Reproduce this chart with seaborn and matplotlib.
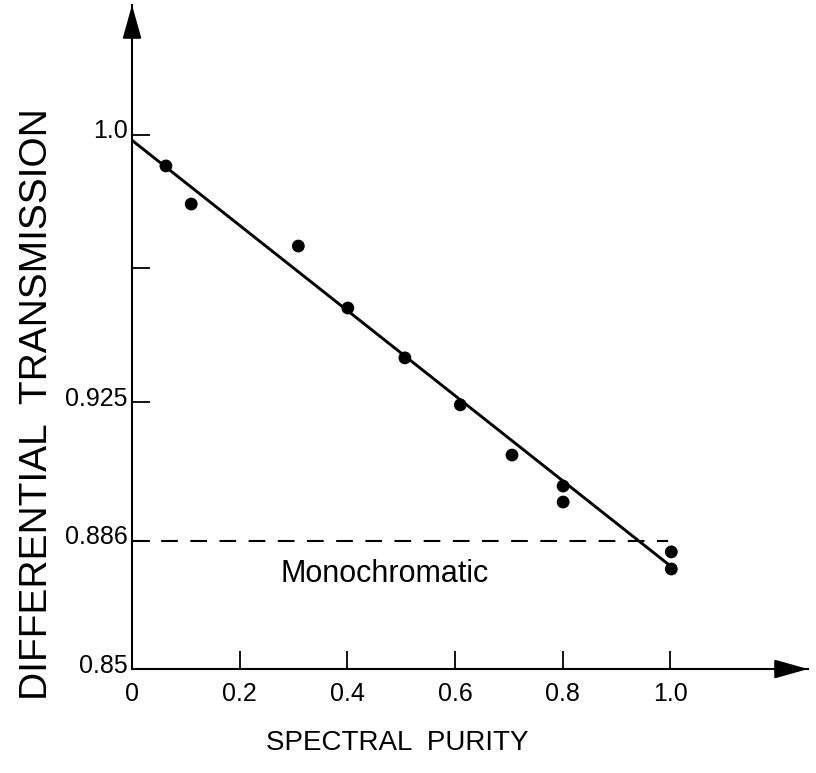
import matplotlib
matplotlib.use('Agg')
import numpy as np
import pandas as pd
import seaborn as sns
import matplotlib.pyplot as plt
from matplotlib.transforms import ScaledTranslation

purity = [0.063, 0.110, 0.309, 0.401, 0.507, 0.610, 0.706, 0.801, 0.801, 1.002, 1.002]
transmission = [0.9913, 0.9806, 0.9688, 0.9514, 0.9374, 0.9242, 0.9101,
                0.9014, 0.8969, 0.8829, 0.8781]

# Fitted straight line (end points)
fit_x = [0.0, 1.0]
fit_y = [0.9985, 0.8790]

# Monochromatic level
mono_level = 0.886
mono_x = [0.0, 0.995]

xticks = [0, 0.2, 0.4, 0.6, 0.8, 1.0]
xtick_labels = ['0', '0.2', '0.4', '0.6', '0.8', '1.0']
yticks = [0.85, 0.886, 0.925, 0.9625, 1.0]
ytick_labels = ['0.85', '0.886', '0.925', '', '1.0']

sns.set_style('ticks')
plt.rcParams['font.family'] = ['Liberation Sans', 'DejaVu Sans']
plt.rcParams['text.color'] = 'black'
plt.rcParams['axes.labelcolor'] = 'black'

fig = plt.figure(figsize=(8.16, 7.73), dpi=100)
ax = fig.add_axes([0.1618, 0.1345, 0.8284, 0.859])

points = pd.DataFrame({'purity': purity, 'transmission': transmission})
sns.scatterplot(data=points, x='purity', y='transmission', ax=ax,
                color='black', s=85, edgecolor='none', zorder=3)
sns.lineplot(x=fit_x, y=fit_y, ax=ax, color='black', linewidth=2.1)
ax.plot(mono_x, [mono_level, mono_level], color='black', linewidth=1.5,
        dashes=(8, 6))

ax.text(0.275, 0.8767, 'Monochromatic', fontsize=22, va='center', ha='left')

ax.set_xlim(0, 1.256)
ax.set_ylim(0.85, 1.0365)
ax.set_xticks(xticks)
ax.set_xticklabels(xtick_labels)
ax.set_yticks(yticks)
ax.set_yticklabels(ytick_labels)
ax.tick_params(direction='in', length=13, width=1.3, labelsize=18,
               colors='black')
ax.tick_params(axis='x', pad=9)
ax.tick_params(axis='y', pad=3)

# nudge y labels a bit upward like the original
for lab in ax.get_yticklabels():
    lab.set_transform(lab.get_transform() +
                      ScaledTranslation(0, 6 / 100, fig.dpi_scale_trans))

ax.set_xlabel('SPECTRAL  PURITY', fontsize=20, va='center', ha='center')
ax.xaxis.set_label_coords(0.392, -0.111)
ax.set_ylabel('DIFFERENTIAL  TRANSMISSION', fontsize=28, va='center',
              ha='center')
ax.yaxis.set_label_coords(-0.14, 0.399)

sns.despine(ax=ax)
for side in ['left', 'bottom']:
    ax.spines[side].set_linewidth(1.5)
    ax.spines[side].set_color('black')

# arrow heads on the axes
head = '-|>,head_length=1.6,head_width=0.45'
ax.annotate('', xy=(1.0, 0), xytext=(0.96, 0), xycoords='axes fraction',
            arrowprops=dict(arrowstyle=head, color='black', lw=1.5,
                            mutation_scale=13, shrinkA=0, shrinkB=0))
ax.annotate('', xy=(0, 1.0), xytext=(0, 0.96), xycoords='axes fraction',
            arrowprops=dict(arrowstyle=head, color='black', lw=1.5,
                            mutation_scale=13, shrinkA=0, shrinkB=0))

fig.savefig('out.png', dpi=100)
